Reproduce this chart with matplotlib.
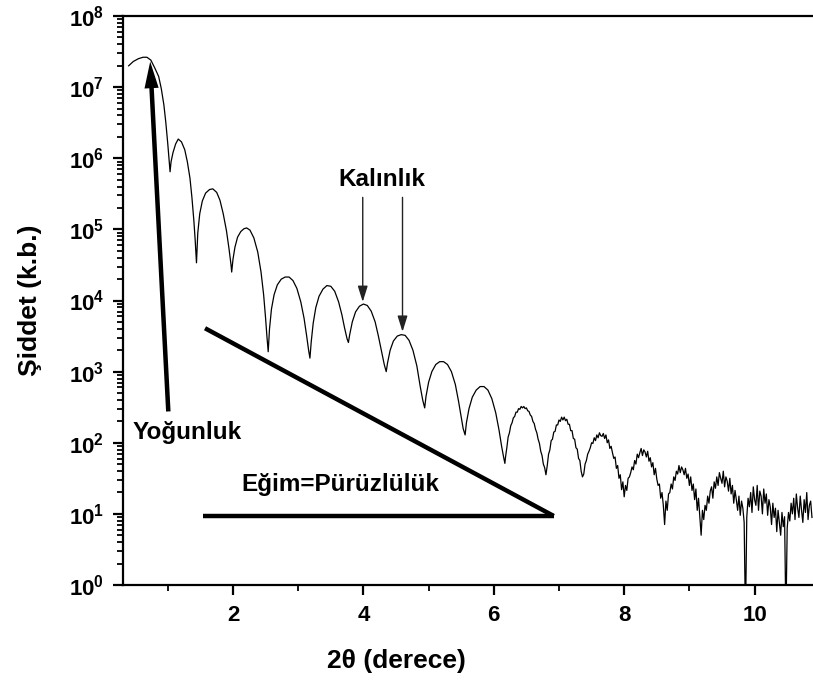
import numpy as np
import matplotlib
matplotlib.use("Agg")
import matplotlib.pyplot as plt
from matplotlib.ticker import FixedLocator, NullFormatter, LogLocator

plt.rcParams['font.family'] = ['Liberation Sans', 'DejaVu Sans']
plt.rcParams['font.weight'] = 'bold'
plt.rcParams['mathtext.fontset'] = 'custom'
plt.rcParams['mathtext.rm'] = 'Liberation Sans:bold'
plt.rcParams['mathtext.bf'] = 'Liberation Sans:bold'
plt.rcParams['mathtext.it'] = 'Liberation Sans:bold'

# ---- data: low-angle fringes (2theta in degrees, log10 of intensity) ----
two_theta_low = [0.40, 0.47, 0.55, 0.62, 0.68, 0.74, 0.80, 0.86, 0.90, 0.94, 0.97, 1.00, 1.02, 1.035,
                 1.05, 1.08, 1.12, 1.16, 1.21, 1.26, 1.30, 1.34, 1.37, 1.40, 1.42, 1.44,
                 1.46, 1.49, 1.53, 1.58, 1.64, 1.69, 1.75, 1.80, 1.85, 1.90, 1.94, 1.97, 1.98,
                 2.00, 2.03, 2.07, 2.12, 2.17, 2.21, 2.26, 2.32, 2.38, 2.43, 2.47, 2.50, 2.52, 2.54,
                 2.56, 2.59, 2.63, 2.68, 2.74, 2.80, 2.86, 2.92, 2.98, 3.04, 3.09, 3.13, 3.16, 3.18,
                 3.20, 3.23, 3.27, 3.32, 3.38, 3.44, 3.50, 3.56, 3.62, 3.67, 3.71, 3.75, 3.77,
                 3.79, 3.83, 3.88, 3.94, 4.00, 4.06, 4.12, 4.18, 4.23, 4.28, 4.32, 4.35,
                 4.37, 4.41, 4.46, 4.52, 4.58, 4.64, 4.70, 4.76, 4.82, 4.87, 4.91, 4.94,
                 4.96, 5.00, 5.05, 5.11, 5.17, 5.23, 5.29, 5.35, 5.41, 5.46, 5.50, 5.53, 5.56,
                 5.58, 5.62, 5.67, 5.73, 5.79, 5.85, 5.91, 5.97, 6.03, 6.08, 6.12, 6.15, 6.17]
log_counts_low = [7.30, 7.36, 7.40, 7.42, 7.42, 7.38, 7.27, 7.15, 6.98, 6.75, 6.50, 6.20, 5.98, 5.81,
                  5.95, 6.08, 6.20, 6.27, 6.23, 6.12, 5.95, 5.72, 5.45, 5.12, 4.85, 4.53,
                  4.95, 5.22, 5.40, 5.51, 5.56, 5.57, 5.52, 5.41, 5.22, 4.98, 4.72, 4.50, 4.40,
                  4.58, 4.75, 4.89, 4.97, 5.01, 5.02, 4.99, 4.88, 4.68, 4.40, 4.08, 3.75, 3.50, 3.28,
                  3.60, 3.88, 4.08, 4.22, 4.30, 4.33, 4.33, 4.28, 4.17, 3.98, 3.75, 3.50, 3.30, 3.19,
                  3.42, 3.68, 3.90, 4.06, 4.16, 4.21, 4.20, 4.13, 3.98, 3.80, 3.62, 3.46, 3.41,
                  3.52, 3.70, 3.84, 3.92, 3.95, 3.93, 3.85, 3.70, 3.50, 3.28, 3.10, 3.00,
                  3.12, 3.30, 3.43, 3.50, 3.52, 3.51, 3.44, 3.30, 3.08, 2.80, 2.60, 2.49,
                  2.65, 2.85, 3.00, 3.10, 3.14, 3.14, 3.10, 3.00, 2.82, 2.58, 2.36, 2.20, 2.11,
                  2.28, 2.48, 2.64, 2.74, 2.79, 2.79, 2.74, 2.62, 2.42, 2.18, 1.95, 1.80, 1.71]

# ---- data: high-angle noisy part, measured on a 0.02 deg grid ----
scan_start = 6.18
scan_step = 0.02
log_counts_high = [
    1.80, 1.93, 2.08, 2.14, 2.24, 2.28, 2.35, 2.37, 2.43, 2.43, 2.48, 2.47, 2.51, 2.49, 2.51, 2.48,
    2.49, 2.45, 2.44, 2.39, 2.37, 2.30, 2.27, 2.19, 2.14, 2.05, 1.99, 1.88, 1.82, 1.70, 1.65, 1.55,
    1.68, 1.84, 1.90, 2.03, 2.05, 2.15, 2.16, 2.25, 2.25, 2.32, 2.30, 2.36, 2.32, 2.36, 2.31, 2.33,
    2.26, 2.26, 2.17, 2.17, 2.06, 2.05, 1.93, 1.91, 1.78, 1.75, 1.60, 1.52,
    1.56, 1.70, 1.75, 1.84, 1.88, 1.93, 2.00, 1.99, 2.07, 2.03, 2.11, 2.07, 2.14, 2.10, 2.09, 2.13,
    2.06, 2.11, 2.00, 2.04, 1.92, 1.95, 1.86, 1.78, 1.80, 1.64, 1.68, 1.50, 1.55, 1.34, 1.45, 1.24,
    1.40, 1.33, 1.50, 1.52, 1.58, 1.66, 1.62, 1.75, 1.70, 1.84, 1.79, 1.86, 1.92, 1.82, 1.90, 1.87,
    1.80, 1.88, 1.74, 1.79, 1.66, 1.72, 1.55, 1.64, 1.49, 1.40, 1.42, 1.22, 1.30, 1.12, 0.85,
    1.18, 1.05, 1.28, 1.30, 1.42, 1.35, 1.52, 1.47, 1.60, 1.56, 1.68, 1.58, 1.66, 1.62, 1.55, 1.64,
    1.50, 1.56, 1.40, 1.52, 1.33, 1.42, 1.20, 1.35, 1.05, 1.22, 0.95, 0.70, 1.05,
    0.92, 1.12, 1.05, 1.25, 1.15, 1.32, 1.38, 1.22, 1.45, 1.36, 1.52, 1.40, 1.58, 1.50, 1.43, 1.60,
    1.38, 1.52, 1.46, 1.32, 1.50, 1.28, 1.40, 1.15, 1.33, 1.20, 1.05, 1.25, 0.98, 1.18, 1.08, 0.88,
    -0.5, 0.95, 1.22, 1.10, 1.30, 1.02, 1.38, 1.20, 1.12, 1.40, 1.05, 1.32, 1.25, 1.00, 1.35, 1.15,
    1.28, 0.98, 1.20, 1.10, 0.85, 1.15, 0.95, 1.08, 0.75, 1.05, 0.88, 0.70, 1.02, 0.82, 0.96,
    -0.5, 0.80, 1.02, 0.90, 1.15, 1.00, 1.22, 0.92, 1.28, 1.08, 0.95, 1.25, 1.05, 0.88, 1.20, 1.02,
    1.30, 0.92, 1.12, 1.18, 0.95]

x_ticks = [2, 4, 6, 8, 10]
x_tick_labels = ['2', '4', '6', '8', '10']
y_ticks = [1e0, 1e1, 1e2, 1e3, 1e4, 1e5, 1e6, 1e7, 1e8]
y_tick_labels = [r'$\mathbf{10^{%d}}$' % k for k in range(9)]

# annotations (data coords)
dens_arrow_tail = (1.008, 10 ** 2.44)
dens_arrow_head = (0.73, 10 ** 7.36)
thick_arrow_x = [3.99, 4.60]
thick_arrow_top = 10 ** 5.45
thick_arrow_tip = [10 ** 3.98, 10 ** 3.56]
slope_hyp_x = [1.571, 6.92]
slope_hyp_y = [10 ** 3.61, 10 ** 0.97]
slope_base_x = [1.544, 6.92]
slope_base_y = [10 ** 0.97, 10 ** 0.97]

# ---- build series ----
x_high = scan_start + scan_step * np.arange(len(log_counts_high))
theta = np.concatenate([np.array(two_theta_low), x_high])
counts = 10.0 ** np.concatenate([np.array(log_counts_low), np.array(log_counts_high)])

W, H = 813, 680
fig = plt.figure(figsize=(W / 100, H / 100), dpi=100)
ax = fig.add_axes([123 / W, (H - 585) / H, (W - 123) / W, (585 - 16) / H])

ax.plot(theta, counts, color='black', lw=0.9)
ax.set_yscale('log')
ax.set_xlim(0.313, 0.313 + (W - 123) / 65.2)
ax.set_ylim(1, 1e8)

ax.xaxis.set_major_locator(FixedLocator(x_ticks))
ax.set_xticklabels(x_tick_labels)
ax.xaxis.set_minor_locator(FixedLocator([1, 3, 5, 7, 9]))
ax.yaxis.set_major_locator(FixedLocator(y_ticks))
ax.set_yticklabels(y_tick_labels)
ax.yaxis.set_minor_locator(LogLocator(base=10, subs=np.arange(2, 10), numticks=20))
ax.yaxis.set_minor_formatter(NullFormatter())

for s in ['left', 'bottom', 'top']:
    ax.spines[s].set_linewidth(1.6)
ax.spines['right'].set_visible(False)
ax.tick_params(which='major', direction='out', length=7.5, width=1.6, labelsize=16, pad=6)
ax.tick_params(which='minor', direction='out', length=4, width=1.3)
ax.tick_params(top=False, right=False, which='both')
ax.tick_params(axis='x', which='major', pad=7)
for lab in ax.get_xticklabels() + ax.get_yticklabels():
    lab.set_fontweight('bold')

# slope triangle
ax.plot(slope_hyp_x, slope_hyp_y, color='black', lw=3.2, solid_capstyle='butt')
ax.plot(slope_base_x, slope_base_y, color='black', lw=3.2, solid_capstyle='butt')

# density arrow
ax.annotate('', xy=dens_arrow_head, xytext=dens_arrow_tail,
            arrowprops=dict(arrowstyle='simple,head_length=1.6,head_width=0.85,tail_width=0.27',
                            mutation_scale=12, color='black', lw=0, shrinkA=0, shrinkB=0))
ax.text(1.295, 10 ** 2.15, 'Yoğunluk', fontsize=17.5, fontweight='bold', ha='center', va='center')

# thickness arrows
for xa, tip in zip(thick_arrow_x, thick_arrow_tip):
    ax.annotate('', xy=(xa, tip), xytext=(xa, thick_arrow_top),
                arrowprops=dict(arrowstyle='-|>,head_length=0.8,head_width=0.25', mutation_scale=12,
                                color='#222222', lw=1.0, shrinkA=0, shrinkB=0))
ax.text(4.29, 10 ** 5.70, 'Kalınlık', fontsize=17.5, fontweight='bold', ha='center', va='center')

ax.text(3.64, 10 ** 1.42, 'Eğim=Pürüzlülük', fontsize=17.5, fontweight='bold', ha='center', va='center')

fig.text(396 / W, 1 - 661 / H, '2θ (derece)', fontsize=19, fontweight='bold', ha='center', va='center')
fig.text(30 / W, 1 - 300 / H, 'Şiddet (k.b.)', fontsize=19, fontweight='bold', ha='center', va='center',
         rotation=90)

fig.savefig('out.png', dpi=100)
